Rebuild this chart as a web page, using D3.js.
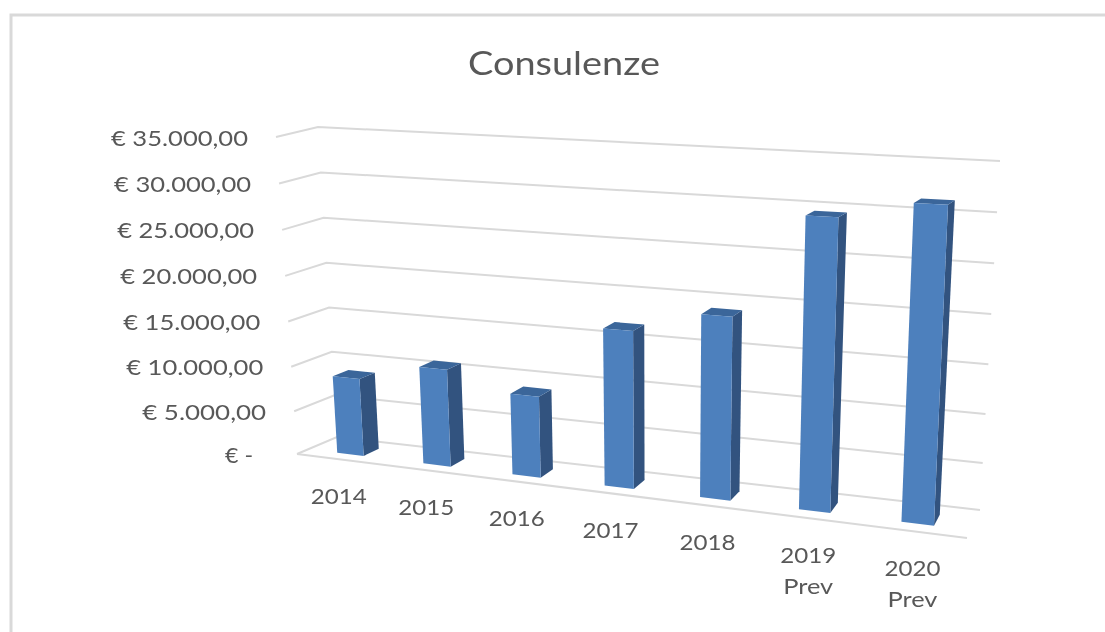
<!DOCTYPE html>
<html>
<head>
<meta charset="utf-8">
<script src="https://cdn.jsdelivr.net/npm/d3@7"></script>
<style>
    html, body { margin: 0; padding: 0; background: #fff; overflow: hidden; }
    text { font-family: Lato, "Open Sans", sans-serif; fill: #595959; }
</style>
</head>
<body>
<svg width="1105" height="632"></svg>
<script>
    const categories = ['2014', '2015', '2016', '2017', '2018', '2019', '2020']
    const categoryNotes = ['', '', '', '', '', 'Prev', 'Prev']
    const values = [8800, 10800, 8900, 16700, 19000, 29500, 31300]
    const tickValues = [0, 5000, 10000, 15000, 20000, 25000, 30000, 35000]
    const tickLabels = ['€ -', '€ 5.000,00', '€ 10.000,00', '€ 15.000,00', '€ 20.000,00', '€ 25.000,00', '€ 30.000,00', '€ 35.000,00']

    const svg = d3.select('svg')

    // the plot box as excel drew it: [x, y] of the 8 corners
    const box = {
        frontBottomLeft: [297, 454], frontBottomRight: [967, 538],
        frontTopLeft: [276, 137], frontTopRight: [984, 170],
        backBottomLeft: [337, 437], backBottomRight: [980, 510],
        backTopLeft: [318, 127], backTopRight: [1000, 161]
    }

    const lerp = (a, b, t) => [a[0] + (b[0] - a[0]) * t, a[1] + (b[1] - a[1]) * t]

    // spacing grows to the right and downwards because of the perspective
    const stretch = 1.13
    const warpX = u => u / (stretch + (1 - stretch) * u)
    const yScale = d3.scalePow().exponent(1.03).domain([0, 35000]).range([0, 1])

    const xScale = d3.scaleBand()
        .domain(categories)
        .range([0, 1])
        .paddingInner(0.69)
        .paddingOuter(0.345)

    const barFront = 0.28
    const barBack = 0.68

    const project = (u, value, depth) => {
        const fu = warpX(u)
        const fv = yScale(value)
        const front = lerp(
            lerp(box.frontBottomLeft, box.frontBottomRight, fu),
            lerp(box.frontTopLeft, box.frontTopRight, fu), fv)
        const back = lerp(
            lerp(box.backBottomLeft, box.backBottomRight, fu),
            lerp(box.backTopLeft, box.backTopRight, fu), fv)
        return lerp(front, back, depth)
    }

    const pathOf = pts => d3.line()(pts) + 'Z'

    // frame of the pasted sheet, runs off the page on the right and bottom
    svg.append('rect')
        .attr('x', 11).attr('y', 15)
        .attr('width', 1200).attr('height', 700)
        .attr('fill', '#fff')
        .attr('stroke', '#d9d9d9')
        .attr('stroke-width', 3)

    const blur = svg.append('defs').append('filter').attr('id', 'soft')
    blur.append('feGaussianBlur').attr('stdDeviation', 0.55)

    const chart = svg.append('g').attr('filter', 'url(#soft)')

    chart.append('text')
        .text('Consulenze')
        .attr('x', 564).attr('y', 75)
        .attr('text-anchor', 'middle')
        .attr('textLength', 192)
        .attr('lengthAdjust', 'spacingAndGlyphs')
        .style('font-size', '33px')

    const gridG = chart.append('g')
        .attr('fill', 'none')
        .attr('stroke', '#d9d9d9')
        .attr('stroke-width', 2)

    gridG.selectAll('path.wall')
        .data(tickValues)
        .enter()
        .append('path')
        .attr('class', 'wall')
        .attr('d', d => d3.line()([project(0, d, 0), project(0, d, 1), project(1, d, 1)]))

    gridG.append('path')
        .attr('d', d3.line()([project(0, 0, 0), project(1, 0, 0)]))

    const barsG = chart.selectAll('g.bar')
        .data(categories.map((c, i) => ({ category: c, value: values[i] })))
        .enter()
        .append('g')
        .attr('class', 'bar')

    const corners = d => {
        const u0 = xScale(d.category)
        const u1 = u0 + xScale.bandwidth()
        return { u0, u1, v: d.value }
    }

    barsG.append('path')
        .attr('fill', '#31527f')
        .attr('d', d => {
            const { u1, v } = corners(d)
            return pathOf([project(u1, 0, barFront), project(u1, v, barFront), project(u1, v, barBack), project(u1, 0, barBack)])
        })

    barsG.append('path')
        .attr('fill', '#3b669a')
        .attr('d', d => {
            const { u0, u1, v } = corners(d)
            return pathOf([project(u0, v, barFront), project(u1, v, barFront), project(u1, v, barBack), project(u0, v, barBack)])
        })

    barsG.append('path')
        .attr('fill', '#4e80bd')
        .attr('d', d => {
            const { u0, u1, v } = corners(d)
            return pathOf([project(u0, 0, barFront), project(u1, 0, barFront), project(u1, v, barFront), project(u0, v, barFront)])
        })

    // value labels hang off the front edge of the side wall
    const labelW = { '€ -': 28 }
    chart.selectAll('text.tick')
        .data(tickValues)
        .enter()
        .append('text')
        .attr('class', 'tick')
        .text((d, i) => tickLabels[i])
        .attr('x', d => project(0, d, 0)[0] - (d === 0 ? 44 : 28))
        .attr('y', d => project(0, d, 0)[1] + 8.5)
        .attr('text-anchor', 'end')
        .attr('textLength', (d, i) => labelW[tickLabels[i]] || (d < 10000 ? 124 : 137))
        .attr('lengthAdjust', 'spacingAndGlyphs')
        .style('font-size', '22px')

    const catG = chart.selectAll('g.cat')
        .data(categories)
        .enter()
        .append('g')
        .attr('class', 'cat')
        .attr('transform', d => {
            const p = project(xScale(d) + xScale.bandwidth() / 2, 0, 0)
            return `translate(${p[0] - 1}, ${p[1] + 44.5})`
        })

    catG.append('text')
        .text(d => d)
        .attr('text-anchor', 'middle')
        .attr('textLength', 56)
        .attr('lengthAdjust', 'spacingAndGlyphs')
        .style('font-size', '22px')

    catG.filter((d, i) => categoryNotes[i] !== '')
        .append('text')
        .text(d => categoryNotes[categories.indexOf(d)])
        .attr('y', 31)
        .attr('text-anchor', 'middle')
        .attr('textLength', 50)
        .attr('lengthAdjust', 'spacingAndGlyphs')
        .style('font-size', '22px')
</script>
</body>
</html>
